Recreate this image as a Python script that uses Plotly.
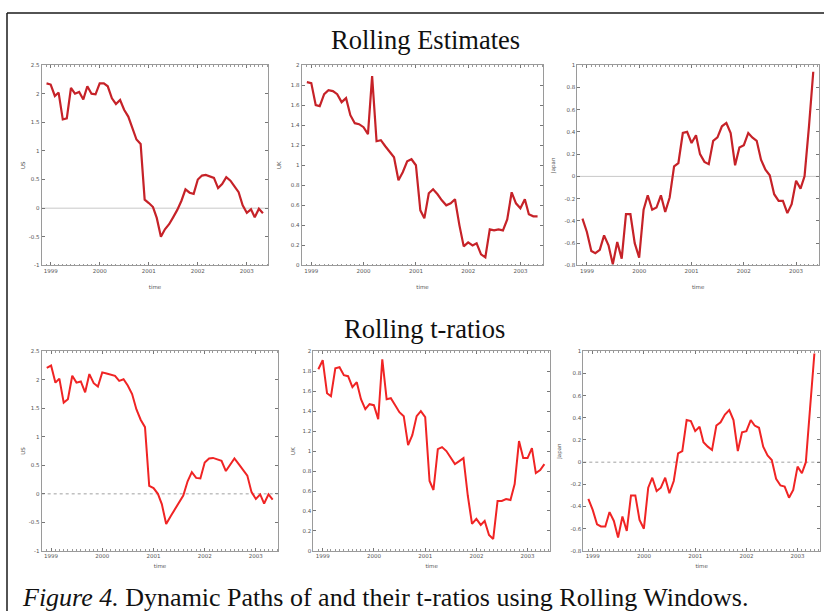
import plotly.graph_objects as go
import pandas as pd

# ---------------- data ----------------
dates = pd.date_range("1998-12-01", periods=54, freq="MS")
year_ticks = ["1999-01-01", "2000-01-01", "2001-01-01", "2002-01-01", "2003-01-01"]
year_labels = ["1999", "2000", "2001", "2002", "2003"]

us_est = [2.18, 2.16, 1.96, 2.02, 1.55, 1.57, 2.10, 2.00, 2.03, 1.90,
          2.13, 2.00, 1.99, 2.18, 2.18, 2.13, 1.92, 1.82, 1.89, 1.72,
          1.60, 1.38, 1.20, 1.12, 0.15, 0.09, 0.02, -0.17, -0.50, -0.37,
          -0.28, -0.16, -0.03, 0.13, 0.33, 0.27, 0.25, 0.50, 0.57, 0.58,
          0.55, 0.53, 0.35, 0.42, 0.54, 0.48, 0.38, 0.28, 0.05, -0.08,
          -0.02, -0.16, -0.01, -0.09]
uk_est = [1.83, 1.82, 1.60, 1.59, 1.71, 1.75, 1.74, 1.71, 1.63, 1.67,
          1.50, 1.42, 1.41, 1.38, 1.31, 1.89, 1.24, 1.25, 1.19, 1.13,
          1.08, 0.85, 0.93, 1.04, 1.06, 1.00, 0.55, 0.47, 0.72, 0.76,
          0.71, 0.65, 0.60, 0.62, 0.66, 0.40, 0.19, 0.23, 0.20, 0.22,
          0.11, 0.08, 0.36, 0.35, 0.36, 0.35, 0.46, 0.73, 0.62, 0.57,
          0.66, 0.51, 0.49, 0.49]
jp_est = [-0.38, -0.50, -0.67, -0.69, -0.66, -0.53, -0.62, -0.79, -0.59, -0.74,
          -0.34, -0.34, -0.60, -0.73, -0.30, -0.17, -0.30, -0.28, -0.17, -0.32,
          -0.19, 0.09, 0.12, 0.39, 0.40, 0.30, 0.37, 0.20, 0.13, 0.11,
          0.32, 0.35, 0.45, 0.48, 0.39, 0.10, 0.26, 0.28, 0.39, 0.35,
          0.32, 0.15, 0.06, 0.01, -0.16, -0.22, -0.22, -0.33, -0.25, -0.04,
          -0.11, 0.00, 0.45, 0.94]

us_t = [2.21, 2.25, 1.95, 2.02, 1.60, 1.66, 2.07, 1.95, 1.97, 1.78,
        2.10, 1.94, 1.88, 2.13, 2.11, 2.09, 2.07, 1.98, 2.01, 1.90,
        1.75, 1.48, 1.30, 1.17, 0.14, 0.10, 0.00, -0.18, -0.53, -0.40,
        -0.28, -0.15, -0.03, 0.22, 0.38, 0.28, 0.27, 0.55, 0.62, 0.63,
        0.60, 0.58, 0.40, 0.50, 0.62, 0.52, 0.42, 0.32, 0.03, -0.09,
        -0.01, -0.17, -0.01, -0.10]
uk_t = [1.82, 1.91, 1.58, 1.55, 1.83, 1.84, 1.76, 1.75, 1.64, 1.69,
        1.52, 1.42, 1.47, 1.46, 1.32, 1.92, 1.52, 1.53, 1.46, 1.39,
        1.35, 1.06, 1.16, 1.35, 1.40, 1.34, 0.70, 0.61, 1.02, 1.04,
        1.00, 0.93, 0.87, 0.90, 0.93, 0.55, 0.27, 0.32, 0.26, 0.30,
        0.16, 0.12, 0.50, 0.50, 0.52, 0.51, 0.67, 1.10, 0.93, 0.93,
        1.03, 0.78, 0.81, 0.87]
jp_t = [-0.33, -0.43, -0.56, -0.58, -0.58, -0.45, -0.53, -0.68, -0.49, -0.62,
        -0.30, -0.30, -0.52, -0.60, -0.23, -0.14, -0.26, -0.23, -0.14, -0.28,
        -0.17, 0.08, 0.10, 0.38, 0.37, 0.28, 0.32, 0.18, 0.14, 0.11,
        0.33, 0.36, 0.43, 0.47, 0.38, 0.10, 0.27, 0.28, 0.38, 0.33,
        0.31, 0.14, 0.06, 0.02, -0.15, -0.21, -0.22, -0.32, -0.25, -0.04,
        -0.10, 0.00, 0.50, 0.98]

us_ticks = [-1, -0.5, 0, 0.5, 1, 1.5, 2, 2.5]
us_labels = ["-1", "-0.5", "0", "0.5", "1", "1.5", "2", "2.5"]
uk_ticks = [0, 0.2, 0.4, 0.6, 0.8, 1, 1.2, 1.4, 1.6, 1.8, 2]
uk_labels = ["0", "0.2", "0.4", "0.6", "0.8", "1", "1.2", "1.4", "1.6", "1.8", "2"]
jp_ticks = [-0.8, -0.6, -0.4, -0.2, 0, 0.2, 0.4, 0.6, 0.8, 1]
jp_labels = ["-0.8", "-0.6", "-0.4", "-0.2", "0", "0.2", "0.4", "0.6", "0.8", "1"]

# ---------------- layout helpers ----------------
W, H = 824, 614
def fx(p):
    return p / W
def fy(p):
    return 1 - p / H

TOP_RED = "#c62228"
BOT_RED = "#f02424"

panels = [
    # series, ylabel, ticks, labels, yrange, (x0,x1,y0,y1) px, colour, zero line, dash, ytitle standoff, xtitle standoff
    (us_est, "US", us_ticks, us_labels, [-1, 2.5], (41.7, 268.3, 62.7, 265.0), TOP_RED, True, "solid", 2, 12),
    (uk_est, "UK", uk_ticks, uk_labels, [0, 2], (301.7, 543.3, 62.7, 265.0), TOP_RED, False, "solid", 8, 12),
    (jp_est, "Japan", jp_ticks, jp_labels, [-0.8, 1], (577.3, 819.0, 62.7, 265.0), TOP_RED, True, "solid", 8, 12),
    (us_t, "US", us_ticks, us_labels, [-1, 2.5], (41.7, 278.3, 351.7, 553.3), BOT_RED, True, "dot", 2, 5),
    (uk_t, "UK", uk_ticks, uk_labels, [0, 2], (313.3, 550.0, 351.7, 553.3), BOT_RED, False, "dot", 6, 5),
    (jp_t, "Japan", jp_ticks, jp_labels, [-0.8, 1], (583.3, 820.0, 351.7, 553.3), BOT_RED, True, "dot", 8, 5),
]

fig = go.Figure()
tick_font = dict(family="DejaVu Sans", size=5.5, color="#555555")
shapes = []

for k, (vals, ylab, yt, yl, yr, box, col, zero, zdash, ystand, xstand) in enumerate(panels, start=1):
    sx = "" if k == 1 else str(k)
    x0, x1, y0, y1 = box
    fig.add_trace(go.Scatter(
        x=dates, y=vals, mode="lines",
        line=dict(color=col, width=2.2 if k <= 3 else 2.0),
        xaxis="x" + sx, yaxis="y" + sx, showlegend=False,
    ))
    fig.update_layout(**{
        "xaxis" + sx: dict(
            domain=[fx(x0), fx(x1)], anchor="y" + sx,
            type="date", range=["1998-10-26", "2003-06-10"],
            tickvals=year_ticks, ticktext=year_labels,
            ticks="inside", ticklen=3, tickcolor="#777777", tickwidth=1,
            minor=dict(ticks="inside", ticklen=1.5, dtick="M1", tickcolor="#999999", showgrid=False),
            showline=True, linecolor="#9a9a9a", linewidth=1, mirror="allticks",
            showgrid=False, zeroline=False, tickfont=tick_font,
            title=dict(text="time", font=dict(family="DejaVu Sans", size=5.5, color="#555555"), standoff=xstand),
            fixedrange=True,
        ),
        "yaxis" + sx: dict(
            domain=[fy(y1), fy(y0)], anchor="x" + sx,
            range=yr, tickvals=yt, ticktext=yl,
            ticks="inside", ticklen=3, tickcolor="#777777", tickwidth=1,
            showline=True, linecolor="#9a9a9a", linewidth=1, mirror="allticks",
            showgrid=False, zeroline=False, tickfont=tick_font,
            title=dict(text=ylab, font=dict(family="DejaVu Sans", size=5.5, color="#555555"), standoff=ystand),
            fixedrange=True,
        ),
    })
    if zero:
        shapes.append(dict(
            type="line", xref="x" + sx + " domain", yref="y" + sx,
            x0=0, x1=1, y0=0, y1=0,
            line=dict(color="#c8c8c8" if k <= 3 else "#a0a0a0", width=1, dash=zdash),
            layer="below",
        ))

# figure border (top and left edges)
shapes.append(dict(type="line", xref="paper", yref="paper",
                   x0=fx(7), x1=1.0, y0=fy(10), y1=fy(10),
                   line=dict(color="#1a1a1a", width=1.5)))
shapes.append(dict(type="line", xref="paper", yref="paper",
                   x0=fx(7), x1=fx(7), y0=fy(10), y1=0,
                   line=dict(color="#1a1a1a", width=1.5)))

serif = "Liberation Serif"
annotations = [
    dict(text="Rolling Estimates", x=fx(425), y=fy(37), xref="paper", yref="paper",
         showarrow=False, xanchor="center", yanchor="middle",
         font=dict(family=serif, size=26.5, color="#111111")),
    dict(text="Rolling t-ratios", x=fx(424), y=fy(329), xref="paper", yref="paper",
         showarrow=False, xanchor="center", yanchor="middle",
         font=dict(family=serif, size=26.5, color="#111111")),
    dict(text="<i>Figure 4.</i> Dynamic Paths of and their t-ratios using Rolling Windows.",
         x=fx(20), y=fy(600), xref="paper", yref="paper",
         showarrow=False, xanchor="left", yanchor="middle",
         font=dict(family=serif, size=26, color="#111111")),
]

fig.update_layout(
    width=W, height=H, autosize=False,
    margin=dict(l=0, r=0, t=0, b=0, pad=0),
    paper_bgcolor="white", plot_bgcolor="white",
    shapes=shapes, annotations=annotations,
    showlegend=False,
)

fig.write_html(
    "out.html",
    config={"displayModeBar": False, "responsive": False},
    post_script="document.body.style.margin='0';document.body.style.overflow='hidden';",
)
